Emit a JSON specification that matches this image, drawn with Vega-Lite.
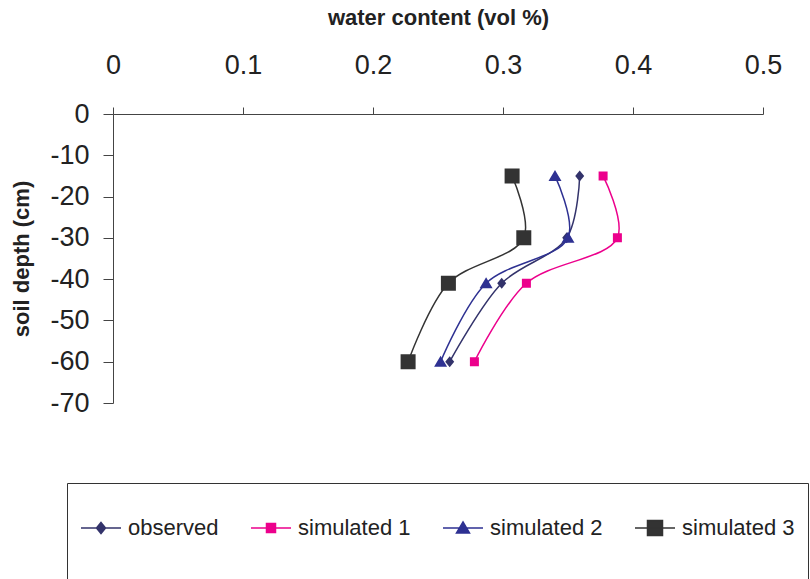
{
  "$schema": "https://vega.github.io/schema/vega-lite/v6.json",
  "width": 650,
  "height": 289,
  "autosize": "none",
  "padding": {"left": 113, "top": 114, "right": 47, "bottom": 176},
  "background": "white",
  "config": {"view": {"stroke": null}, "font": "Liberation Sans"},
  "data": {"values": [
    {"series": "observed", "water": 0.359, "depth": -15},
    {"series": "observed", "water": 0.349, "depth": -30},
    {"series": "observed", "water": 0.299, "depth": -41},
    {"series": "observed", "water": 0.259, "depth": -60},
    {"series": "simulated 1", "water": 0.377, "depth": -15},
    {"series": "simulated 1", "water": 0.388, "depth": -30},
    {"series": "simulated 1", "water": 0.318, "depth": -41},
    {"series": "simulated 1", "water": 0.278, "depth": -60},
    {"series": "simulated 2", "water": 0.340, "depth": -15},
    {"series": "simulated 2", "water": 0.350, "depth": -30},
    {"series": "simulated 2", "water": 0.287, "depth": -41},
    {"series": "simulated 2", "water": 0.252, "depth": -60},
    {"series": "simulated 3", "water": 0.307, "depth": -15},
    {"series": "simulated 3", "water": 0.316, "depth": -30},
    {"series": "simulated 3", "water": 0.258, "depth": -41},
    {"series": "simulated 3", "water": 0.227, "depth": -60}
  ]},
  "encoding": {
    "x": {
      "field": "water", "type": "quantitative",
      "scale": {"domain": [0, 0.5], "nice": false, "zero": false},
      "axis": {
        "orient": "top", "values": [0, 0.1, 0.2, 0.3, 0.4, 0.5],
        "labelExpr": "'' + datum.value", "grid": false, "labelFlush": false,
        "labelFont": "Liberation Sans", "labelFontSize": 27, "labelColor": "#222",
        "labelPadding": 28, "tickSize": 7, "tickColor": "#444", "domainColor": "#444",
        "title": "water content (vol %)", "titleFont": "Liberation Sans", "titleFontSize": 22,
        "titleFontWeight": "bold", "titleColor": "#222", "titlePadding": 22
      }
    },
    "y": {
      "field": "depth", "type": "quantitative",
      "scale": {"domain": [-70, 0], "nice": false, "zero": false},
      "axis": {
        "values": [0, -10, -20, -30, -40, -50, -60, -70],
        "labelExpr": "'' + datum.value", "grid": false, "labelFlush": false,
        "labelFont": "Liberation Sans", "labelFontSize": 27, "labelColor": "#222",
        "labelPadding": 14, "tickSize": 10, "tickColor": "#444", "domainColor": "#444",
        "title": "soil depth (cm)", "titleFont": "Liberation Sans", "titleFontSize": 22,
        "titleFontWeight": "bold", "titleColor": "#222", "titlePadding": 16
      }
    },
    "stroke": {
      "field": "series", "type": "nominal",
      "scale": {
        "domain": ["observed", "simulated 1", "simulated 2", "simulated 3"],
        "range": ["#33336b", "#ec008c", "#2e3192", "#333333"]
      },
      "legend": {
        "orient": "none", "legendX": -46, "legendY": 369, "direction": "horizontal",
        "title": " ", "titleFontSize": 1, "titlePadding": 20,
        "padding": 13, "strokeColor": "#333", "fillColor": "white",
        "labelFont": "Liberation Sans", "labelFontSize": 22, "labelColor": "#222",
        "labelOffset": 16, "symbolOffset": 10, "columnPadding": 29, "symbolSize": 400,
        "symbolStrokeWidth": 1.5, "symbolOpacity": 1
      }
    },
    "order": {"field": "depth", "sort": "descending"}
  },
  "layer": [
    {"mark": {"type": "line", "interpolate": "catmull-rom", "strokeWidth": 1.5}},
    {
      "mark": {"type": "point", "filled": true, "opacity": 1, "strokeWidth": 0, "size": 400},
      "encoding": {
        "fill": {
          "field": "series", "type": "nominal",
          "scale": {
            "domain": ["observed", "simulated 1", "simulated 2", "simulated 3"],
            "range": ["#33336b", "#ec008c", "#2e3192", "#333333"]
          }
        },
        "shape": {
          "field": "series", "type": "nominal",
          "scale": {
            "domain": ["observed", "simulated 1", "simulated 2", "simulated 3"],
            "range": [
              "M0,-3.6M0,3.6M-2,0H2M0,-0.55L0.45,0L0,0.55L-0.45,0Z",
              "M0,-3.6M0,3.6M-2,0H2M-0.45,-0.45H0.45V0.45H-0.45Z",
              "M0,-3.6M0,3.6M-2,0H2M0,-0.6L0.65,0.5L-0.65,0.5Z",
              "M0,-3.6M0,3.6M-2,0H2M-0.75,-0.75H0.75V0.75H-0.75Z"
            ]
          }
        }
      }
    }
  ]
}
